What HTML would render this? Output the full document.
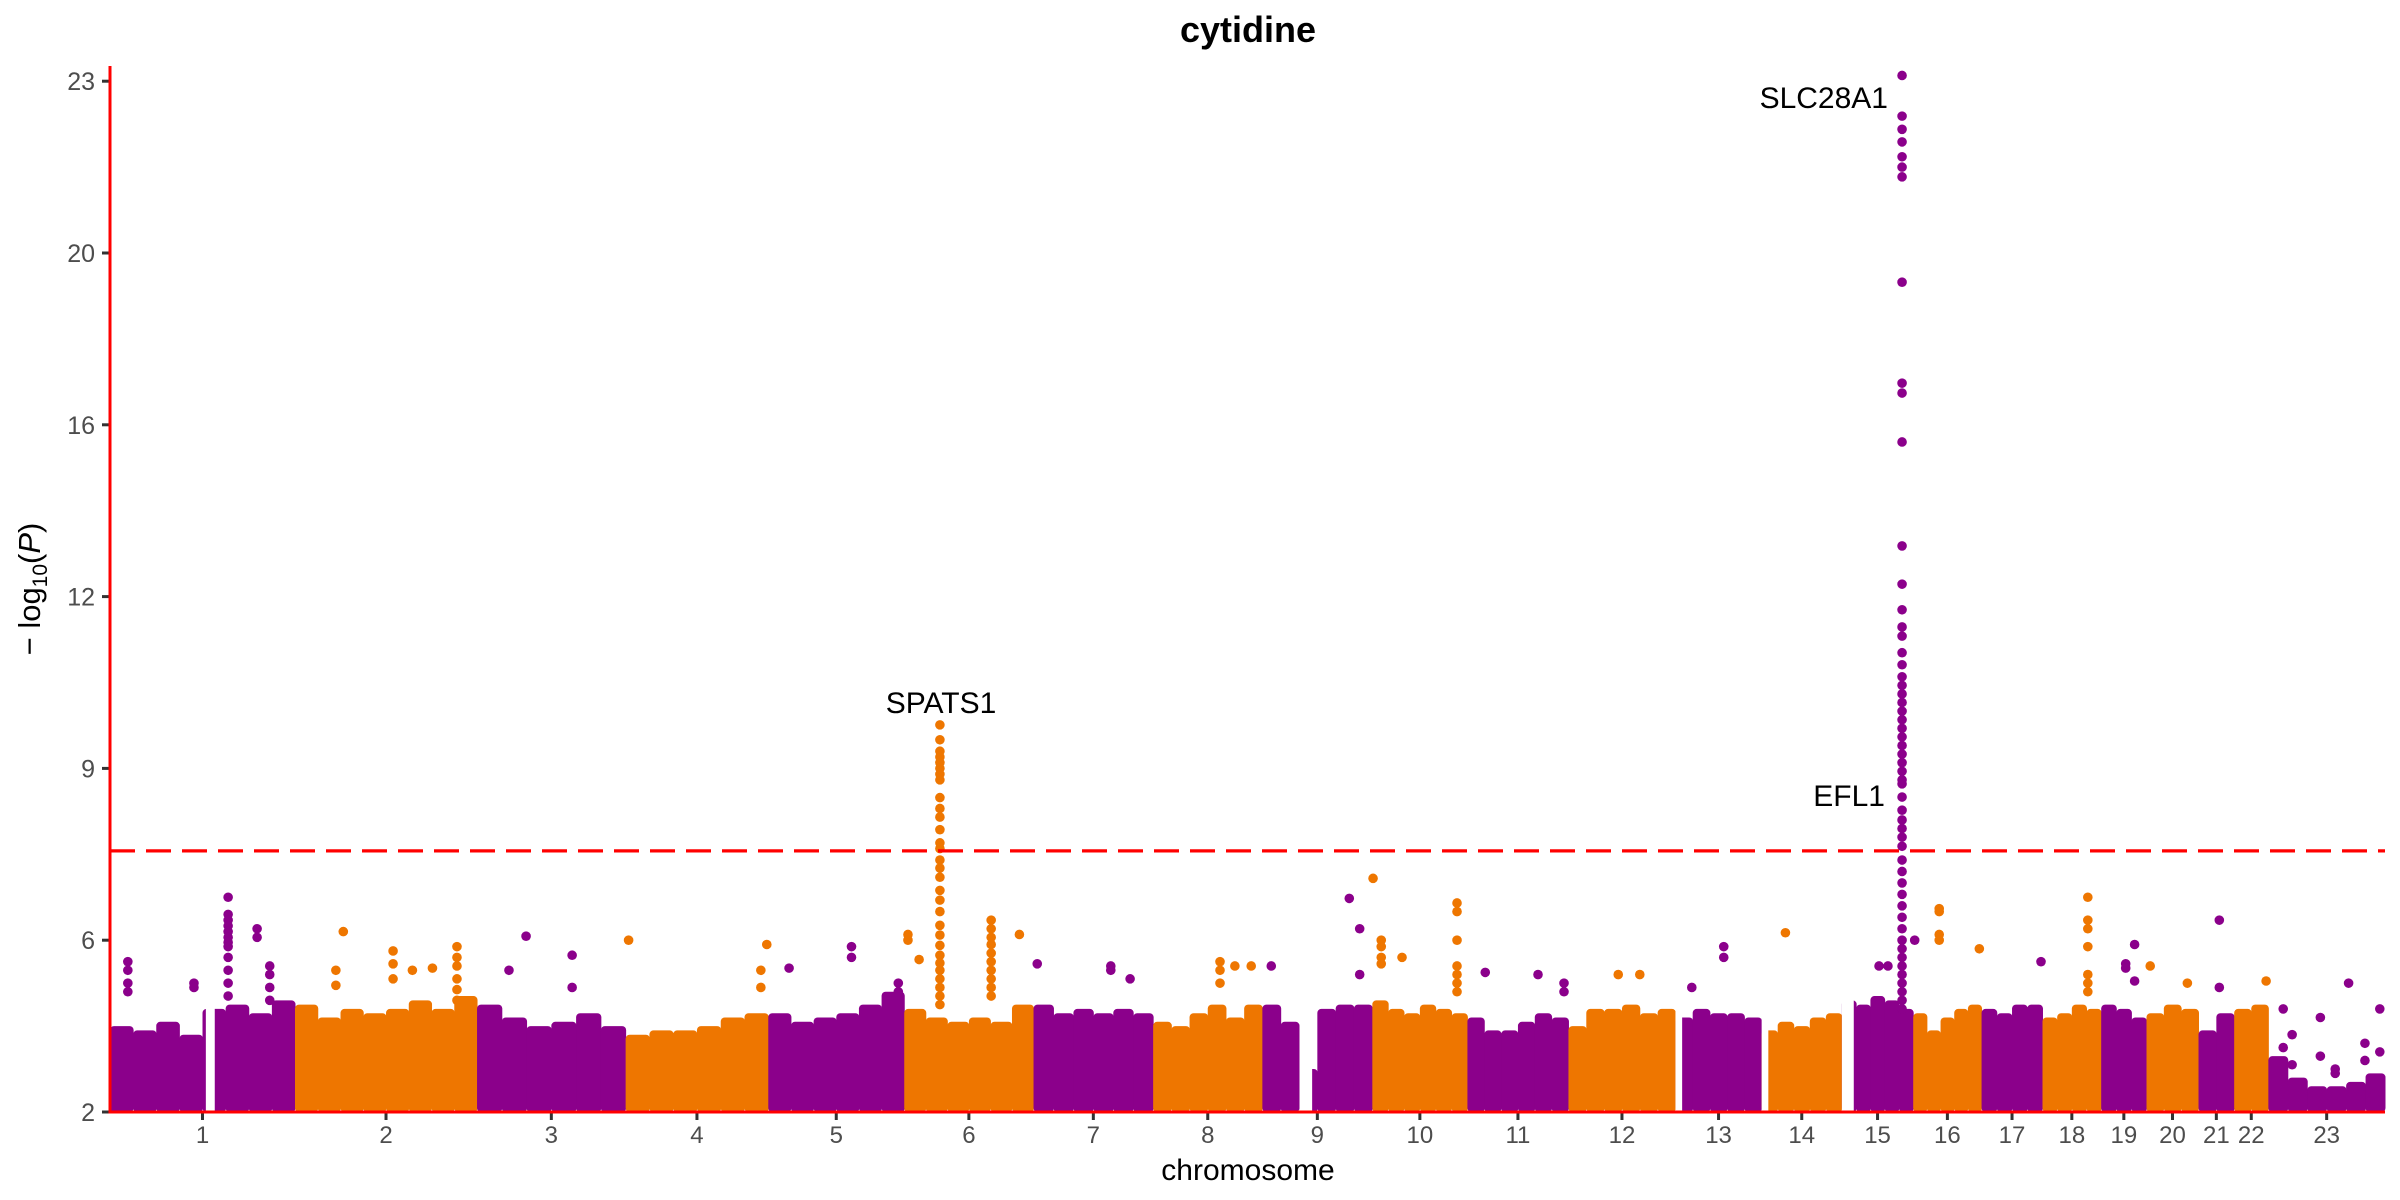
<!DOCTYPE html>
<html><head><meta charset="utf-8">
<style>
html,body{margin:0;padding:0;background:#fff;}
svg{display:block;font-family:"Liberation Sans","DejaVu Sans",sans-serif;}
</style></head>
<body>
<svg id="chart" width="2400" height="1200" viewBox="0 0 2400 1200" xmlns="http://www.w3.org/2000/svg">
  <rect x="0" y="0" width="2400" height="1200" fill="#fff"/>
  <text x="1248" y="42" font-size="36" font-weight="bold" text-anchor="middle" fill="#000">cytidine</text>
  <g id="bulk"></g>
  <g id="gaps"></g>
  <g id="points"></g>
  <g id="axes"></g>
  <text x="1248" y="1180" font-size="30" text-anchor="middle" fill="#000">chromosome</text>
  <text transform="translate(40,589) rotate(-90)" font-size="31" text-anchor="middle" fill="#000">− log<tspan font-size="21" dy="7">10</tspan><tspan dy="-7">(</tspan><tspan font-style="italic">P</tspan>)</text>
  <text x="1888" y="108" font-size="30" text-anchor="end" fill="#000">SLC28A1</text>
  <text x="1885" y="806" font-size="30" text-anchor="end" fill="#000">EFL1</text>
  <text x="941" y="713" font-size="30" text-anchor="middle" fill="#000">SPATS1</text>
</svg>
<script>
// ---- data ----
const chromosomes = ["1","2","3","4","5","6","7","8","9","10","11","12","13","14","15","16","17","18","19","20","21","22","23"];
const chrLengths = [249,245,200,192,183,174,161,147,148,128,136,144,116,108,96,92,82,79,61,70,48,46,157];
const yTickValues = [2,6,9,12,16,20,23];
const threshold = 7.56;
// dense band top (-log10 P) per chromosome, sampled in equal bins
const bulkTops = [
 [4.0,3.9,4.1,3.8,4.4,4.5,4.3,4.6],
 [4.5,4.2,4.4,4.3,4.4,4.6,4.4,4.7],
 [4.5,4.2,4.0,4.1,4.3,4.0],
 [3.8,3.9,3.9,4.0,4.2,4.3],
 [4.3,4.1,4.2,4.3,4.5,4.8],
 [4.4,4.2,4.1,4.2,4.1,4.5],
 [4.5,4.3,4.4,4.3,4.4,4.3],
 [4.1,4.0,4.3,4.5,4.2,4.5],
 [4.5,4.1,3.0,4.4,4.5,4.5],
 [4.6,4.4,4.3,4.5,4.4,4.3],
 [4.2,3.9,3.9,4.1,4.3,4.2],
 [4.0,4.4,4.4,4.5,4.3,4.4],
 [4.2,4.4,4.3,4.3,4.2],
 [3.9,4.1,4.0,4.2,4.3],
 [4.6,4.5,4.7,4.6,4.4],
 [4.3,3.9,4.2,4.4,4.5],
 [4.4,4.3,4.5,4.5],
 [4.2,4.3,4.5,4.4],
 [4.5,4.4,4.2],
 [4.3,4.5,4.4],
 [3.9,4.3],
 [4.4,4.5],
 [3.3,2.8,2.6,2.6,2.7,2.9]
];
// regions without data: [chr, startMb, endMb]
const gapRegions = [[1,129,141],[9,50,67],[13,0,9],[14,0,9],[15,0,16]];
// individual points: chromosome, position (Mb), -log10 P
const ptChr = [];
const ptPos = [];
const ptVal = [];
function addColumn(c, pos, vals){ for (const v of vals){ ptChr.push(c); ptPos.push(pos); ptVal.push(v); } }
const hitsChr15 = [23.1,22.39,22.16,21.94,21.68,21.5,21.33,19.32,16.97,16.74,15.6,13.18,12.29,11.77,11.47,11.31,11.02,10.81,10.6,10.45,10.3,10.15,10.0,9.85,9.7,9.55,9.4,9.25,9.1,8.95,8.8,8.73,8.5,8.27,8.1,7.95,7.8,7.64,7.4,7.2,7.0,6.8,6.6,6.4,6.2,6.0,5.8,5.6,5.4,5.2,5.0,4.8,4.6,4.4];
const hitsChr6 = [9.76,9.5,9.3,9.2,9.1,9.0,8.9,8.8,8.49,8.3,8.15,7.93,7.7,7.6,7.4,7.26,7.1,6.87,6.7,6.5,6.26,6.09,5.88,5.65,5.47,5.3,5.1,4.9,4.7,4.5];
addColumn(15, 81, hitsChr15);
addColumn(6, 48, hitsChr6);
addColumn(1, 159, [6.75,6.45,6.35,6.25,6.15,6.05,5.95,5.85,5.6,5.3,5.0,4.7]);
addColumn(6, 117, [6.35,6.2,6.05,5.9,5.7,5.5,5.3,5.1,4.9,4.7]);
addColumn(18, 61, [6.75,6.35,6.2,5.85,5.2,5.0,4.8]);
addColumn(10, 114, [6.65,6.5,6.0,5.4,5.2,5.0,4.8]);
addColumn(16, 35, [6.55,6.5,6.1,6.0]);
addColumn(1, 198, [6.2,6.05]);
addColumn(1, 24, [5.5,5.3,5.0,4.8]);
addColumn(1, 113, [5.0,4.9]);
addColumn(1, 215, [5.4,5.2,4.9,4.6]);
addColumn(2, 65, [6.15]);
addColumn(2, 55, [5.3,4.95]);
addColumn(2, 132, [5.75,5.45,5.1]);
addColumn(2, 158, [5.3]);
addColumn(2, 185, [5.35]);
addColumn(2, 218, [5.85,5.6,5.4,5.1,4.85,4.6]);
addColumn(3, 66, [6.07]);
addColumn(3, 128, [5.65,4.9]);
addColumn(3, 43, [5.3]);
addColumn(4, 4, [6.0]);
addColumn(4, 182, [5.3,4.9]);
addColumn(4, 190, [5.9]);
addColumn(5, 112, [5.85,5.6]);
addColumn(5, 28, [5.35]);
addColumn(5, 175, [5.0,4.8]);
addColumn(6, 5, [6.1,6.0]);
addColumn(6, 20, [5.55]);
addColumn(6, 155, [6.1]);
addColumn(7, 5, [5.45]);
addColumn(7, 104, [5.4,5.3]);
addColumn(7, 130, [5.1]);
addColumn(8, 90, [5.5,5.3,5.0]);
addColumn(8, 110, [5.4]);
addColumn(8, 132, [5.4]);
addColumn(9, 12, [5.4]);
addColumn(9, 117, [6.73]);
addColumn(9, 131, [6.2,5.2]);
addColumn(10, 1, [7.08]);
addColumn(10, 12, [6.0,5.85,5.6,5.45]);
addColumn(10, 40, [5.6]);
addColumn(11, 24, [5.25]);
addColumn(11, 95, [5.2]);
addColumn(11, 130, [5.0,4.8]);
addColumn(12, 67, [5.2]);
addColumn(12, 96, [5.2]);
addColumn(13, 22, [4.9]);
addColumn(13, 65, [5.85,5.6]);
addColumn(14, 32, [6.13]);
addColumn(15, 50, [5.4]);
addColumn(15, 62, [5.4]);
addColumn(15, 98, [6.0]);
addColumn(16, 89, [5.8]);
addColumn(17, 80, [5.5]);
addColumn(19, 33, [5.45,5.35]);
addColumn(19, 45, [5.9,5.05]);
addColumn(20, 5, [5.4]);
addColumn(20, 55, [5.0]);
addColumn(21, 28, [6.35,4.9]);
addColumn(22, 43, [5.05]);
addColumn(23, 20, [4.4,3.5]);
addColumn(23, 32, [3.8,3.1]);
addColumn(23, 70, [4.2,3.3]);
addColumn(23, 90, [3.0,2.9]);
addColumn(23, 108, [5.0]);
addColumn(23, 130, [3.6,3.2]);
addColumn(23, 150, [4.4,3.4]);

// ---- layout ----
const X0 = 110, X1 = 2385, Y0 = 1112, STEP = 171.8;
const PURPLE = "#8B008B", ORANGE = "#EE7600";
const NS = "http://www.w3.org/2000/svg";
const totalLen = chrLengths.reduce((a,b)=>a+b,0);
const cumStart = [];
let acc = 0;
for (const l of chrLengths){ cumStart.push(acc); acc += l; }
function xScale(chr, mb){ return X0 + (cumStart[chr-1] + mb) * (X1 - X0) / totalLen; }
function yScale(v){
  const t = yTickValues;
  let i = 0;
  while (i < t.length - 2 && v > t[i+1]) i++;
  const idx = i + (v - t[i]) / (t[i+1] - t[i]);
  return Y0 - idx * STEP;
}
function colorOf(chr){ return chr % 2 === 1 ? PURPLE : ORANGE; }
function mk(tag, attrs, parent){
  const e = document.createElementNS(NS, tag);
  for (const k in attrs) e.setAttribute(k, attrs[k]);
  parent.appendChild(e);
  return e;
}

// dense bands
const bulkG = document.getElementById("bulk");
bulkTops.forEach((tops, ci) => {
  const chr = ci + 1, len = chrLengths[ci], n = tops.length;
  tops.forEach((v, bi) => {
    const xa = xScale(chr, len * bi / n), xb = xScale(chr, len * (bi + 1) / n);
    const r = mk("rect", {x: xa, y: yScale(v), width: xb - xa + 0.5, height: Y0 - yScale(v), fill: colorOf(chr), rx: 4}, bulkG);
    
    
  });
});
// gaps
const gapG = document.getElementById("gaps");
gapRegions.forEach(g => {
  const xa = xScale(g[0], g[1]), xb = xScale(g[0], g[2]);
  const r = mk("rect", {x: xa, y: 60, width: xb - xa, height: Y0 - 60, fill: "#fff"}, gapG);
  
  
});
// points
const ptG = document.getElementById("points");
for (let i = 0; i < ptVal.length; i++){
  const c = mk("circle", {cx: xScale(ptChr[i], ptPos[i]), cy: yScale(ptVal[i]), r: 4.8, fill: colorOf(ptChr[i])}, ptG);
  
  
}
// axes
const axG = document.getElementById("axes");
const thr = mk("line", {x1: X0, x2: X1, y1: yScale(threshold), y2: yScale(threshold), stroke: "#FF0000", "stroke-width": 3.2, "stroke-dasharray": "25 11"}, axG);


const ya = mk("line", {x1: X0, x2: X0, y1: 66, y2: Y0 + 1.5, stroke: "#FF0000", "stroke-width": 3}, axG);


const xa = mk("line", {x1: X0 - 1.5, x2: X1, y1: Y0, y2: Y0, stroke: "#FF0000", "stroke-width": 3}, axG);


yTickValues.forEach(v => {
  const y = yScale(v);
  const tk = mk("line", {x1: X0 - 8, x2: X0 - 1.5, y1: y, y2: y, stroke: "#333", "stroke-width": 3}, axG);
  
  
  const t = mk("text", {x: 95, y: y + 9, "font-size": 25, "text-anchor": "end", fill: "#4d4d4d"}, axG);
  t.textContent = v;
  
  
});
chromosomes.forEach((name, ci) => {
  const x = xScale(ci + 1, chrLengths[ci] / 2);
  const tk = mk("line", {x1: x, x2: x, y1: Y0 + 1.5, y2: Y0 + 8, stroke: "#333", "stroke-width": 3}, axG);
  
  
  const t = mk("text", {x: x, y: 1143, "font-size": 24, "text-anchor": "middle", fill: "#4d4d4d"}, axG);
  t.textContent = name;
  
  
});
</script>
</body></html>
